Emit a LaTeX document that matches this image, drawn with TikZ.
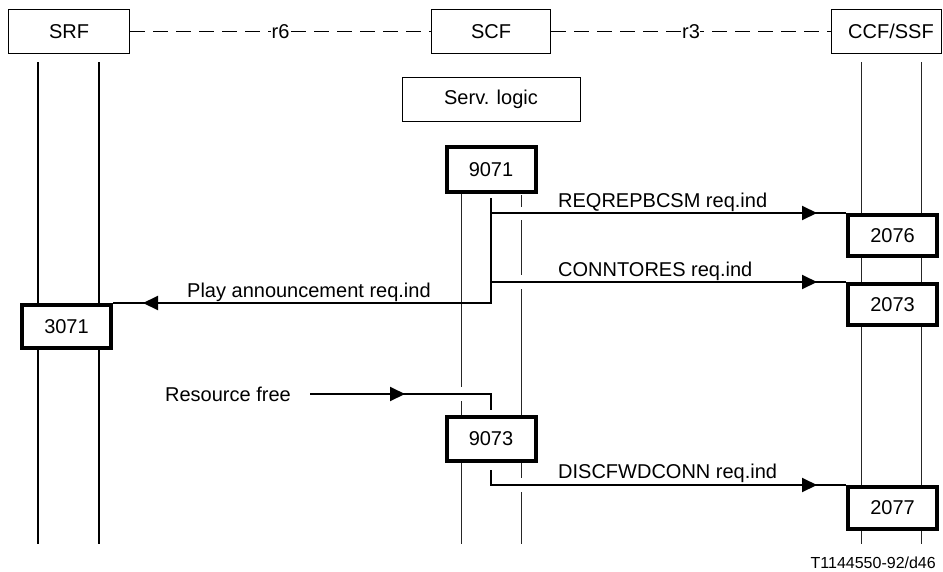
\documentclass[tikz,border=0pt]{standalone}
\usepackage{fontspec}
\setmainfont{Liberation Sans}
\usetikzlibrary{arrows.meta,decorations.markings}
\begin{document}
\begin{tikzpicture}[x=1pt,y=-1pt,
  txt/.style={font=\fontsize{20}{24}\selectfont},
  hdr/.style={txt, draw, line width=1pt, minimum height=44pt, inner sep=0pt, fill=white},
  tbox/.style={txt, draw, line width=4pt, minimum width=89pt, inner sep=0pt, fill=white},
  lbl/.style={txt, inner sep=0pt},
  lifethin/.style={line width=1pt, black!85},
  lifethick/.style={line width=2pt},
  dashline/.style={line width=1.7pt, dash pattern=on 15pt off 8pt},
  msg/.style={line width=2pt, postaction={decorate},
    decoration={markings, mark=at position #1 with {\arrow{Triangle[length=15pt,width=14pt]}}}}
]
\useasboundingbox (0,0) rectangle (943,571);

% header boxes
\node[hdr, minimum width=121pt] (srf) at (69,31.5) {SRF};
\node[hdr, minimum width=119pt] (scf) at (491,31.5) {SCF};
\node[hdr, minimum width=110pt] (ccf) at (886.5,31.5) {\hspace*{9pt}CCF/SSF};

% interfaces
\draw[dashline] (srf.east) -- node[lbl, fill=white, inner sep=0.5pt] (r6) {r6} (scf.west);
\draw[dashline] (scf.east) -- node[lbl, fill=white, inner sep=0.5pt] (r3) {r3} (ccf.west);

% service logic
\node[hdr, minimum width=178pt] (sl) at (491,99.5) {Serv. logic};

% lifelines
\draw[lifethick] (38,62) -- (38,544);
\draw[lifethick] (99,62) -- (99,544);
\draw[lifethin] (861,62) -- (861,544);
\draw[lifethin] (921,62) -- (921,544);
\draw[lifethin] (461,194) -- (461,387) (461,401) -- (461,544);
\draw[lifethin] (521,195) -- (521,207) (521,220) -- (521,275) (521,289) -- (521,478) (521,492) -- (521,544);

% state boxes
\node[tbox, minimum height=45pt] (b9071) at (491,169.5) {9071};
\node[tbox, minimum height=41pt, anchor=north west] (b2076) at (846,213) {2076};
\node[tbox, minimum height=41pt, anchor=north west] (b2073) at (846,282) {2073};
\node[tbox, minimum height=43pt, anchor=north east] (b3071) at (113,303) {3071};
\node[tbox, minimum height=44pt] (b9073) at (491,439) {9073};
\node[tbox, minimum height=42pt, anchor=north west] (b2077) at (846,485) {2077};

% messages
\coordinate (o1) at (491,198);
\coordinate (o2) at (491,470);
\draw[msg=-29pt] (o1) |- (b2076.north west);
\draw[msg=-29pt] (o1) |- (b2073.north west);
\draw[msg=-30pt] (o1) |- (b3071.north east);
\draw[msg=-29pt] (o2) |- (b2077.north west);

\node[lbl, anchor=base west] (lreq) at (558,207) {REQREPBCSM req.ind};
\node[lbl, anchor=base west] (lcon) at (558,276) {CONNTORES req.ind};
\node[lbl, anchor=base west] (lplay) at (187,297) {Play announcement req.ind};
\node[lbl, anchor=base west] (ldisc) at (558,478) {DISCFWDCONN req.ind};

% resource free
\node[lbl, anchor=east] (rf) at (291,394) {Resource free};
\coordinate (rfs) at (310,394);
\coordinate (rfe) at (491,410);
\draw[msg=95pt] (rfs) -| (rfe);

% figure id
\node[inner sep=0pt, anchor=base east, font=\fontsize{16}{19}\selectfont] (fig) at (936,568) {T1144550-92/d46};
\end{tikzpicture}
\end{document}
